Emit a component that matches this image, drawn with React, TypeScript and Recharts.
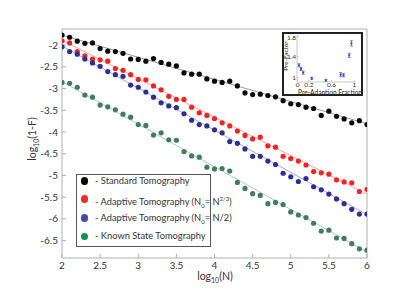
import React from "react";
import { ComposedChart, ScatterChart, Scatter, Line, XAxis, YAxis, ErrorBar } from "recharts";

// log10(N) sample positions
const logN = [
  2.0, 2.1, 2.2, 2.3, 2.4, 2.5, 2.6, 2.7, 2.8, 2.9, 3.0,
  3.1, 3.2, 3.3, 3.4, 3.5, 3.6, 3.7, 3.8, 3.9, 4.0,
  4.1, 4.2, 4.3, 4.4, 4.5, 4.6, 4.7, 4.8, 4.9, 5.0,
  5.1, 5.2, 5.3, 5.4, 5.5, 5.6, 5.7, 5.8, 5.9, 6.0,
];

const standard = [
  -1.77, -1.82, -1.91, -1.96, -1.95, -2.08, -2.14, -2.15, -2.19, -2.32, -2.33,
  -2.37, -2.31, -2.40, -2.44, -2.48, -2.64, -2.67, -2.67, -2.78, -2.83,
  -2.86, -2.83, -2.94, -3.10, -3.14, -3.13, -3.16, -3.19, -3.28, -3.35,
  -3.37, -3.43, -3.46, -3.62, -3.52, -3.64, -3.70, -3.79, -3.74, -3.83,
];
const adaptive23 = [
  -1.90, -1.95, -2.15, -2.25, -2.32, -2.34, -2.37, -2.54, -2.58, -2.68, -2.79,
  -2.80, -2.94, -3.03, -3.18, -3.25, -3.25, -3.43, -3.56, -3.62, -3.69,
  -3.79, -3.86, -3.98, -4.08, -4.16, -4.12, -4.32, -4.35, -4.56, -4.61,
  -4.67, -4.76, -4.91, -4.94, -4.97, -5.10, -5.15, -5.17, -5.37, -5.32,
];
const adaptiveHalf = [
  -2.04, -2.15, -2.21, -2.32, -2.41, -2.49, -2.61, -2.68, -2.72, -2.92, -2.97,
  -3.08, -3.20, -3.33, -3.40, -3.44, -3.58, -3.73, -3.83, -3.86, -3.95,
  -4.02, -4.22, -4.26, -4.39, -4.56, -4.56, -4.67, -4.75, -4.95, -5.03,
  -5.14, -5.07, -5.26, -5.33, -5.43, -5.54, -5.65, -5.78, -5.89, -5.89,
];
const knownState = [
  -2.86, -2.88, -2.97, -3.15, -3.20, -3.38, -3.42, -3.49, -3.59, -3.66, -3.83,
  -3.85, -4.07, -4.02, -4.18, -4.19, -4.45, -4.55, -4.58, -4.81, -4.85,
  -4.84, -4.90, -5.16, -5.30, -5.42, -5.46, -5.65, -5.62, -5.67, -5.84,
  -5.91, -5.97, -6.10, -6.28, -6.26, -6.44, -6.45, -6.57, -6.69, -6.72,
];

// fitted lines, end points at log10(N) = 2 and 6
const fitX = [2, 6];
const standardFit = [-1.77, -3.81];
const adaptive23Fit = [-1.89, -5.43];
const adaptiveHalfFit = [-2.02, -5.9];
const knownStateFit = [-2.84, -6.76];

const xTicks = [2, 2.5, 3, 3.5, 4, 4.5, 5, 5.5, 6];
const yTicks = [-6.5, -6, -5.5, -5, -4.5, -4, -3.5, -3, -2.5, -2];

// inset: pre-factor vs pre-adaption fraction
const insetFraction = [0.025, 0.06, 0.1, 0.25, 0.5, 0.76, 0.81, 0.91, 0.95];
const insetPrefactor = [1.24, 1.17, 1.1, 0.99, 0.95, 1.06, 1.05, 1.43, 1.66];
const insetErr = [0.03, 0.03, 0.03, 0.02, 0.02, 0.04, 0.03, 0.04, 0.05];
const insetXTicks = [0, 0.2, 0.6, 1];
const insetYTicks = [1, 1.2, 1.4, 1.6, 1.8];

const FONT = "Lato, 'Open Sans', sans-serif";
const AXIS = "#b0b0b0";

const series = [
  { name: "standard", values: standard, fit: standardFit, color: "#0a0a0a", fitColor: "#9a9a9a", legendColor: "#000000" },
  { name: "adaptive23", values: adaptive23, fit: adaptive23Fit, color: "#f5231f", fitColor: "#f4a3a3", legendColor: "#ee2a24" },
  { name: "adaptiveHalf", values: adaptiveHalf, fit: adaptiveHalfFit, color: "#2d2f94", fitColor: "#a5a7dc", legendColor: "#3a4ea3" },
  { name: "knownState", values: knownState, fit: knownStateFit, color: "#3f7d5c", fitColor: "#a9ccb6", legendColor: "#0f9147" },
];

const rows = (vals: number[]) => logN.map((x, i) => ({ x, y: vals[i] }));
const fitRows = (vals: number[]) => fitX.map((x, i) => ({ x, y: vals[i] }));

const insetRows = insetFraction.map((x, i) => ({ x, y: insetPrefactor[i], err: insetErr[i] }));

const legendText = [
  <span>- Standard Tomography</span>,
  <span>- Adaptive Tomography (N<sub style={{ fontSize: 6 }}>0</sub>= N<sup style={{ fontSize: 6 }}>2/3</sup>)</span>,
  <span>- Adaptive Tomography (N<sub style={{ fontSize: 6 }}>0</sub>= N/2)</span>,
  <span>- Known State Tomography</span>,
];
const legendY = [181, 199, 218, 236.5];

export default function App() {
  const tick = { fill: "#333", fontSize: 10, fontFamily: FONT };
  const insetTick = { fill: "#333", fontSize: 6.5, fontFamily: FONT };
  return (
    <div style={{ position: "absolute", left: 0, top: 0, width: 415, height: 297, background: "#fff", fontFamily: FONT }}>
      <ComposedChart width={415} height={297} margin={{ top: 28, right: 47, bottom: 0, left: 0 }}>
        <XAxis xAxisId="b" type="number" dataKey="x" domain={[2, 6]} ticks={xTicks} allowDataOverflow
          height={39} tickSize={-4} tickMargin={8} stroke={AXIS} tick={tick} />
        <XAxis xAxisId="t" orientation="top" type="number" dataKey="x" domain={[2, 6]} ticks={xTicks} allowDataOverflow
          height={1} tickSize={-4} stroke={AXIS} tick={false} />
        <YAxis yAxisId="l" type="number" dataKey="y" domain={[-6.9, -1.63]} ticks={yTicks} allowDataOverflow
          width={62} tickSize={-4} tickMargin={8} stroke={AXIS} tick={tick} />
        <YAxis yAxisId="r" orientation="right" type="number" dataKey="y" domain={[-6.9, -1.63]} ticks={yTicks} allowDataOverflow
          width={1} tickSize={-4} stroke={AXIS} tick={false} />
        {series.map((s) => (
          <Line key={s.name + "-fit"} xAxisId="b" yAxisId="l" data={fitRows(s.fit)} dataKey="y" stroke={s.fitColor}
            strokeWidth={1} dot={false} activeDot={false} isAnimationActive={false} />
        ))}
        {series.map((s) => (
          <Scatter key={s.name} xAxisId="b" yAxisId="l" data={rows(s.values)} dataKey="y" fill={s.color} isAnimationActive={false}
            shape={(p: any) => <circle cx={p.cx} cy={p.cy} r={2.6} fill={s.color} />} />
        ))}
      </ComposedChart>

      {/* axis titles */}
      <div style={{ position: "absolute", left: 0, top: 270, width: 430, textAlign: "center", fontSize: 10.5, color: "#333" }}>
        log<sub style={{ fontSize: 7 }}>10</sub>(N)
      </div>
      <div style={{ position: "absolute", left: 33, top: 139, transform: "translate(-50%, -50%) rotate(-90deg)", fontSize: 10.5, color: "#333", whiteSpace: "nowrap" }}>
        log<sub style={{ fontSize: 7 }}>10</sub>(1-F)
      </div>

      {/* legend */}
      <div style={{ position: "absolute", left: 76, top: 174, width: 133, height: 71, border: "1px solid #555", background: "#fff" }} />
      {series.map((s, i) => (
        <React.Fragment key={s.name + "-leg"}>
          <div style={{ position: "absolute", left: 80.5, top: legendY[i] - 3.7, width: 7.4, height: 7.4, borderRadius: "50%", background: s.legendColor }} />
          <div style={{ position: "absolute", left: 95, top: legendY[i] - 6.5, fontSize: 9.3, lineHeight: "12px", color: "#333", whiteSpace: "nowrap" }}>
            {legendText[i]}
          </div>
        </React.Fragment>
      ))}

      {/* inset */}
      <div style={{ position: "absolute", left: 282, top: 32, width: 77, height: 60, border: "2px solid #222", background: "#fff" }}>
        <ScatterChart width={77} height={60} margin={{ top: 1, right: 5, bottom: 0, left: 0 }}>
          <XAxis type="number" dataKey="x" domain={[-0.01, 1.03]} ticks={insetXTicks} allowDataOverflow height={12}
            tickSize={-2} tickMargin={2} stroke="#c8c8c8" tick={insetTick} />
          <YAxis type="number" dataKey="y" domain={[0.92, 1.82]} ticks={insetYTicks} allowDataOverflow width={13}
            tickSize={-2} tickMargin={3} stroke="#c8c8c8" tick={insetTick} />
          <Scatter data={insetRows} dataKey="y" fill="#3344bb" isAnimationActive={false}
            shape={(p: any) => <circle cx={p.cx} cy={p.cy} r={1.1} fill="#3344bb" />}>
            <ErrorBar dataKey="err" direction="y" width={1.5} stroke="#5566cc" strokeWidth={0.8} />
          </Scatter>
        </ScatterChart>
        <div style={{ position: "absolute", left: 14, top: 55, fontSize: 6.6, color: "#222", whiteSpace: "nowrap", lineHeight: "6px" }}>
          Pre-Adaption Fraction
        </div>
        <div style={{ position: "absolute", left: 1.5, top: 22, transform: "translate(-50%, -50%) rotate(-90deg)", fontSize: 6.4, lineHeight: "6px", color: "#222", whiteSpace: "nowrap" }}>
          Pre-Factor
        </div>
      </div>
    </div>
  );
}
